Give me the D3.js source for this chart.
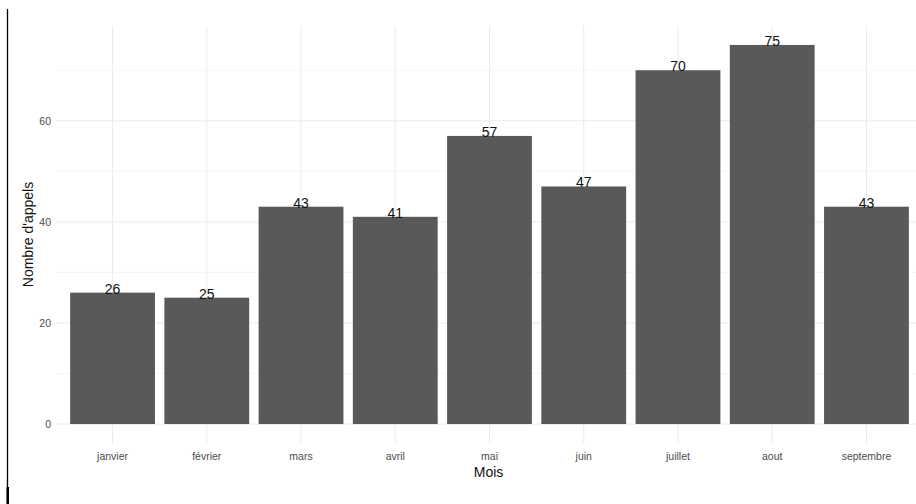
<!DOCTYPE html>
<html>
<head>
<meta charset="utf-8">
<script src="https://cdn.jsdelivr.net/npm/d3@7"></script>
<style>
  body { margin: 0; background: #fff; }
  svg { display: block; font-family: "Liberation Sans", Arial, sans-serif; }
</style>
</head>
<body>
<div id="chart"></div>
<script>
// donnees
var mois = ["janvier", "février", "mars", "avril", "mai", "juin", "juillet", "aout", "septembre"]
var appels = [26, 25, 43, 41, 57, 47, 70, 75, 43]
var yTicks = [0, 20, 40, 60]
var yMinor = [10, 30, 50, 70]

var width = 916, height = 504
var panel = {left: 56, right: 923, top: 26, bottom: 443}

var svg = d3.select("#chart").append("svg")
    .attr("width", width)
    .attr("height", height)

var x = d3.scaleBand()
    .domain(mois)
    .range([panel.left, panel.right])
    .paddingInner(0.1)
    .paddingOuter(0.15)

// expansion 5% comme ggplot
var ymax = d3.max(appels)
var y = d3.scaleLinear()
    .domain([-ymax * 0.05, ymax * 1.05])
    .range([panel.bottom, panel.top])

var grid = svg.append("g")

// grille mineure
grid.selectAll(".minor")
    .data(yMinor)
  .enter().append("line")
    .attr("x1", panel.left).attr("x2", panel.right)
    .attr("y1", d => y(d)).attr("y2", d => y(d))
    .attr("stroke", "#f2f2f2")
    .attr("stroke-width", 0.8)

// grille majeure
grid.selectAll(".major")
    .data(yTicks)
  .enter().append("line")
    .attr("x1", panel.left).attr("x2", panel.right)
    .attr("y1", d => y(d)).attr("y2", d => y(d))
    .attr("stroke", "#ebebeb")
    .attr("stroke-width", 1)

grid.selectAll(".vmajor")
    .data(mois)
  .enter().append("line")
    .attr("x1", d => x(d) + x.bandwidth() / 2).attr("x2", d => x(d) + x.bandwidth() / 2)
    .attr("y1", panel.top).attr("y2", panel.bottom)
    .attr("stroke", "#ebebeb")
    .attr("stroke-width", 1)

// barres
svg.append("g").selectAll("rect")
    .data(appels)
  .enter().append("rect")
    .attr("x", (d, i) => x(mois[i]))
    .attr("width", x.bandwidth())
    .attr("y", d => y(d))
    .attr("height", d => y(0) - y(d))
    .attr("fill", "#595959")

// etiquettes des valeurs
svg.append("g").selectAll("text")
    .data(appels)
  .enter().append("text")
    .attr("x", (d, i) => x(mois[i]) + x.bandwidth() / 2)
    .attr("y", d => y(d) + 1)
    .attr("text-anchor", "middle")
    .attr("font-size", 14)
    .attr("fill", "#111")
    .text(d => d)

// axe y
var yAxis = svg.append("g")
    .attr("transform", "translate(" + (panel.left - 5) + ",0)")
    .call(d3.axisLeft(y).tickValues(yTicks).tickSize(0).tickPadding(0))
yAxis.select(".domain").remove()
yAxis.selectAll("text")
    .attr("font-size", 10.5)
    .attr("fill", "#4d4d4d")
    .attr("font-family", "Liberation Sans, Arial, sans-serif")

// axe x
var xAxis = svg.append("g")
    .attr("transform", "translate(0," + (panel.bottom + 10) + ")")
    .call(d3.axisBottom(x).tickSize(0).tickPadding(0))
xAxis.select(".domain").remove()
xAxis.selectAll("text")
    .attr("font-size", 10.5)
    .attr("fill", "#4d4d4d")
    .attr("font-family", "Liberation Sans, Arial, sans-serif")

// titres
svg.append("text")
    .attr("x", (panel.left + 923) / 2 - 1)
    .attr("y", 477)
    .attr("text-anchor", "middle")
    .attr("font-size", 14)
    .attr("fill", "#111")
    .text("Mois")

svg.append("text")
    .attr("transform", "translate(33," + ((panel.top + panel.bottom) / 2) + ") rotate(-90)")
    .attr("text-anchor", "middle")
    .attr("font-size", 14)
    .attr("fill", "#111")
    .text("Nombre d'appels")

// trait noir a gauche
svg.append("line")
    .attr("x1", 7.5).attr("x2", 7.5)
    .attr("y1", 9).attr("y2", height)
    .attr("stroke", "#000")
    .attr("stroke-width", 1.3)
svg.append("rect")
    .attr("x", 6.5).attr("y", 487)
    .attr("width", 2.5).attr("height", 17)
    .attr("fill", "#000")
</script>
</body>
</html>
